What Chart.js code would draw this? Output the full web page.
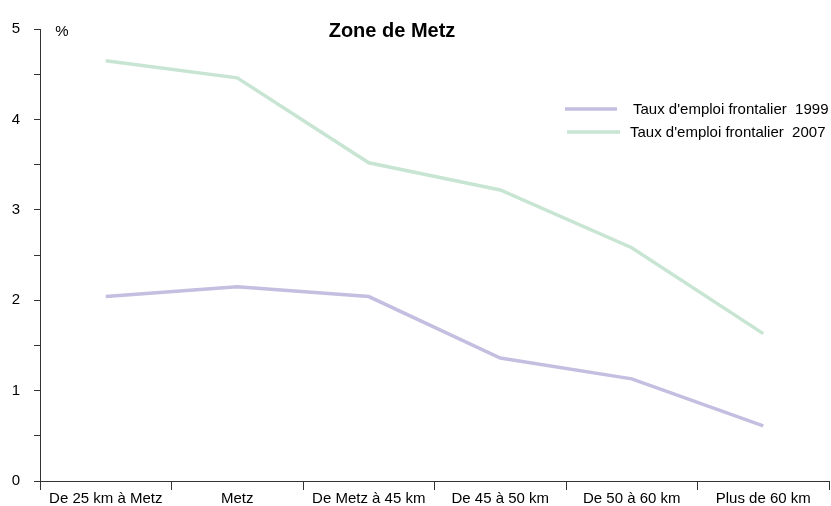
<!DOCTYPE html>
<html>
<head>
<meta charset="utf-8">
<script src="https://cdn.jsdelivr.net/npm/chart.js@4/dist/chart.umd.min.js"></script>
<style>
  body { margin: 0; background: #fff; }
  #wrap { width: 831px; height: 506px; position: relative; }
</style>
</head>
<body>
<div id="wrap"><canvas id="lineChart"></canvas></div>
<script>
// Données du graphique
const categories = ['De 25 km à Metz', 'Metz', 'De Metz à 45 km', 'De 45 à 50 km', 'De 50 à 60 km', 'Plus de 60 km'];
const taux1999 = [2.04, 2.15, 2.04, 1.36, 1.13, 0.61];
const taux2007 = [4.65, 4.46, 3.52, 3.22, 2.58, 1.63];
const seriesLabels = ["Taux d'emploi frontalier  1999", "Taux d'emploi frontalier  2007"];
const yTicks = [0, 1, 2, 3, 4, 5];

const FONT = '"Liberation Sans", Arial, sans-serif';

// Titre, unité et légende dessinés à la main
const decorPlugin = {
    id: 'decor',
    afterDraw(chart) {
        const ctx = chart.ctx;
        ctx.save();
        ctx.fillStyle = '#000';
        ctx.textBaseline = 'middle';
        ctx.textAlign = 'center';
        ctx.font = 'bold 20px ' + FONT;
        ctx.fillText('Zone de Metz', 392, 31);
        ctx.font = '15px ' + FONT;
        ctx.fillText('%', 62, 32);

        ctx.textAlign = 'left';
        ctx.font = '15px ' + FONT;
        chart.data.datasets.forEach((ds, i) => {
            const y = 109 + i * 23;
            ctx.strokeStyle = ds.borderColor;
            ctx.lineWidth = 3.5;
            ctx.beginPath();
            ctx.moveTo(565 + i * 2, y);
            ctx.lineTo(617 + i * 3, y);
            ctx.stroke();
            ctx.fillStyle = '#000';
            ctx.fillText(ds.label, 633 - i * 3, y + 1);
        });
        ctx.restore();
    }
};

const lineData = {
    labels: categories,
    datasets: [{
        label: seriesLabels[0],
        data: taux1999,
        borderColor: '#c4bee0',
        borderWidth: 3.5,
        pointRadius: 0,
        tension: 0,
        fill: false
    }, {
        label: seriesLabels[1],
        data: taux2007,
        borderColor: '#c7e5d2',
        borderWidth: 3.5,
        pointRadius: 0,
        tension: 0,
        fill: false
    }]
};

const lineConfig = {
    type: 'line',
    data: lineData,
    options: {
        responsive: true,
        maintainAspectRatio: false,
        animation: false,
        layout: { padding: { top: 29, right: 2, left: 0, bottom: 0 } },
        plugins: {
            legend: { display: false },
            tooltip: { enabled: false },
            title: { display: false }
        },
        scales: {
            x: {
                offset: true,
                grid: { offset: true, drawOnChartArea: false, tickLength: 9, color: '#333' },
                border: { color: '#333', width: 1 },
                ticks: { color: '#000', font: { family: FONT, size: 15 }, padding: 0, maxRotation: 0, autoSkip: false },
                afterFit(scale) { scale.height = 25; }
            },
            y: {
                min: 0,
                max: 5,
                grid: { drawOnChartArea: false, tickLength: 6, color: '#333' },
                border: { color: '#333', width: 1 },
                ticks: {
                    stepSize: 0.5,
                    color: '#000',
                    font: { family: FONT, size: 15 },
                    padding: 14,
                    callback: v => yTicks.includes(v) ? String(v) : ''
                },
                afterFit(scale) { scale.width = 40; }
            }
        }
    },
    plugins: [decorPlugin]
};

const lineChart = new Chart(document.getElementById('lineChart'), lineConfig);
</script>
</body>
</html>
